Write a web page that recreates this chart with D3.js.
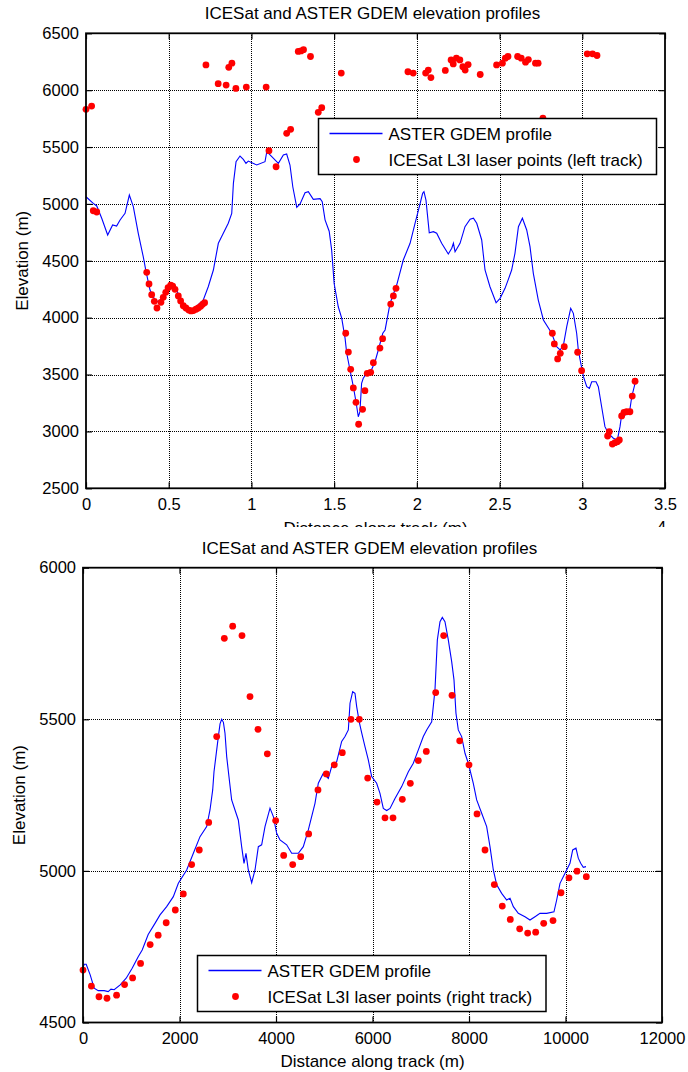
<!DOCTYPE html>
<html>
<head>
<meta charset="utf-8">
<script src="https://cdn.jsdelivr.net/npm/d3@7"></script>
<style>
  html, body { margin: 0; padding: 0; background: #fff; }
  svg { display: block; font-family: "Liberation Sans", Arial, Helvetica, sans-serif; }
</style>
</head>
<body>
<svg id="fig" width="688" height="1072"></svg>
<script>
// ---------- Left track (distance in units of 10^4 m) ----------
const demDistLeft = [0, 0.044, 0.065, 0.095, 0.131, 0.161, 0.185, 0.206, 0.236, 0.262, 0.286, 0.316, 0.346, 0.363,
  0.387, 0.417, 0.437, 0.468, 0.498, 0.518, 0.544, 0.568, 0.598, 0.633, 0.665, 0.709, 0.739, 0.770, 0.800, 0.830,
  0.860, 0.881, 0.891, 0.907, 0.931, 0.951, 0.967, 0.981, 1.032, 1.082, 1.093, 1.123, 1.163, 1.193, 1.213, 1.233,
  1.250, 1.274, 1.294, 1.324, 1.344, 1.374, 1.415, 1.428, 1.445, 1.470, 1.485, 1.500, 1.525, 1.546, 1.566, 1.576,
  1.596, 1.616, 1.632, 1.646, 1.656, 1.666, 1.676, 1.697, 1.727, 1.747, 1.767, 1.794, 1.808, 1.838, 1.878, 1.918,
  1.959, 1.989, 2.015, 2.035, 2.043, 2.055, 2.075, 2.100, 2.120, 2.150, 2.190, 2.211, 2.221, 2.231, 2.261, 2.291,
  2.322, 2.342, 2.362, 2.392, 2.412, 2.442, 2.479, 2.503, 2.533, 2.553, 2.573, 2.593, 2.614, 2.638, 2.664, 2.684,
  2.704, 2.734, 2.765, 2.815, 2.845, 2.866, 2.886, 2.906, 2.930, 2.946, 2.966, 2.976, 2.987, 3.007, 3.027, 3.043,
  3.057, 3.083, 3.097, 3.117, 3.137, 3.158, 3.188, 3.212, 3.228, 3.238, 3.258, 3.285, 3.299, 3.319];
const demElevLeft = [5063, 5005, 4982, 4874, 4727, 4815, 4806, 4859, 4917, 5078, 4976, 4742, 4536, 4404,
  4243, 4155, 4140, 4184, 4258, 4302, 4258, 4170, 4096, 4061, 4096, 4155, 4272, 4419, 4654, 4742,
  4830, 4917, 5181, 5371, 5421, 5392, 5357, 5377, 5342, 5371, 5459, 5415, 5357, 5430, 5439, 5342,
  5151, 4970, 5000, 5099, 5108, 5040, 5046, 5020, 4860, 4760, 4595, 4300, 4096, 3994, 3820, 3687,
  3540, 3393, 3261, 3129, 3173, 3423, 3467, 3511, 3546, 3613, 3716, 3863, 3892, 4126, 4287, 4507,
  4654, 4830, 4976, 5093, 5108, 5034, 4747, 4756, 4742, 4654, 4560, 4610, 4654, 4580, 4654, 4800,
  4865, 4874, 4830, 4683, 4419, 4272, 4131, 4170, 4258, 4337, 4419, 4566, 4800, 4874, 4771, 4624,
  4390, 4155, 3980, 3863, 3745, 3716, 3760, 3921, 4082, 4038, 3863, 3716, 3628, 3481, 3393, 3379,
  3437, 3437, 3393, 3217, 3042, 2983, 2940, 2925, 3042, 3144, 3144, 3165, 3305, 3423];

const laserDistLeft = [0, 0.034, 0.044, 0.065, 0.367, 0.381, 0.397, 0.413, 0.429, 0.453, 0.467, 0.482, 0.496,
  0.512, 0.524, 0.538, 0.558, 0.572, 0.588, 0.604, 0.621, 0.635, 0.649, 0.665, 0.679, 0.693, 0.705, 0.717,
  0.725, 0.799, 0.847, 0.863, 0.882, 0.906, 0.969, 1.089, 1.106, 1.149, 1.213, 1.237, 1.283, 1.300, 1.315,
  1.357, 1.404, 1.425, 1.543, 1.570, 1.586, 1.600, 1.616, 1.632, 1.648, 1.672, 1.686, 1.700, 1.721, 1.737,
  1.777, 1.793, 1.842, 1.858, 1.874, 1.946, 1.978, 2.053, 2.069, 2.085, 2.172, 2.207, 2.220, 2.239, 2.260,
  2.278, 2.292, 2.310, 2.383, 2.482, 2.517, 2.535, 2.551, 2.609, 2.631, 2.657, 2.674, 2.717, 2.733, 2.762,
  2.819, 2.831, 2.851, 2.867, 2.891, 2.972, 2.996, 3.030, 3.062, 3.089, 3.153, 3.163, 3.182, 3.198, 3.212,
  3.224, 3.238, 3.252, 3.268, 3.288, 3.302, 3.319];
const laserElevLeft = [5832, 5860, 4940, 4929, 4399, 4296, 4202, 4144, 4085, 4135, 4179, 4223, 4264,
  4287, 4278, 4249, 4191, 4147, 4105, 4085, 4067, 4059, 4062, 4074, 4085, 4100, 4117, 4132,
  6222, 6057, 6045, 6201, 6237, 6015, 6027, 6027, 5468, 5327, 5621, 5656, 6341, 6345, 6356,
  6296, 5805, 5846, 6150, 3863, 3698, 3546, 3382, 3256, 3063, 3194, 3358, 3511, 3520, 3604,
  3733, 3815, 4120, 4191, 4258, 6162, 6150, 6150, 6177, 6111, 6174, 6266, 6231, 6281, 6266,
  6207, 6177, 6225, 6138, 6222, 6237, 6281, 6296, 6296, 6281, 6246, 6269, 6237, 6237, 5755,
  3863, 3769, 3637, 3687, 3745, 3696, 3534, 6320, 6320, 6305, 2960, 2998, 2889, 2901, 2910,
  2925, 3136, 3168, 3173, 3173, 3311, 3441];

const leftXTicks = [0, 0.5, 1, 1.5, 2, 2.5, 3, 3.5];
const leftYTicks = [2500, 3000, 3500, 4000, 4500, 5000, 5500, 6000, 6500];

// ---------- Right track (distance in m) ----------
const demDistRight = [0, 25, 66, 149, 232, 315, 439, 522, 580, 646, 771, 895, 1019, 1144, 1227, 1351, 1492,
  1596, 1734, 1872, 1976, 2149, 2287, 2425, 2563, 2632, 2688, 2715, 2771, 2805, 2840, 2874, 2910, 2943, 2978,
  3033, 3081, 3150, 3219, 3288, 3337, 3378, 3426, 3496, 3565, 3634, 3703, 3772, 3876, 3945, 4014, 4083, 4221,
  4325, 4463, 4566, 4670, 4808, 4877, 4981, 5084, 5154, 5258, 5361, 5430, 5499, 5534, 5589, 5637, 5672, 5727,
  5776, 5844, 5913, 5983, 6086, 6155, 6224, 6294, 6363, 6466, 6605, 6743, 6846, 6950, 7053, 7123, 7227, 7295,
  7344, 7399, 7447, 7502, 7571, 7641, 7689, 7730, 7778, 7848, 7917, 7986, 8089, 8159, 8263, 8366, 8435, 8504,
  8574, 8677, 8781, 8850, 8919, 9022, 9160, 9264, 9368, 9471, 9610, 9761, 9817, 9886, 9990, 10093, 10149,
  10217, 10265, 10315, 10369, 10425];
const demElevRight = [4680, 4692, 4692, 4657, 4613, 4605, 4605, 4602, 4610, 4608, 4624, 4646, 4679, 4717, 4739, 4790, 4827,
  4855, 4882, 4915, 4959, 5003, 5058, 5113, 5146, 5201, 5267, 5327, 5399, 5443, 5485, 5500, 5490, 5454, 5377,
  5300, 5234, 5201, 5168, 5080, 5025, 5058, 5003, 4961, 5003, 5080, 5086, 5146, 5207, 5179, 5124, 5102, 5086,
  5058, 5058, 5080, 5135, 5223, 5289, 5322, 5305, 5344, 5360, 5427, 5443, 5465, 5553, 5591, 5586, 5542, 5490,
  5455, 5410, 5366, 5311, 5289, 5256, 5206, 5199, 5206, 5239, 5278, 5327, 5355, 5399, 5443, 5465, 5492, 5597,
  5762, 5822, 5836, 5822, 5762, 5690, 5630, 5520, 5465, 5443, 5388, 5355, 5289, 5234, 5190, 5146, 5080, 5003,
  4954, 4926, 4904, 4910, 4882, 4860, 4849, 4838, 4849, 4860, 4860, 4865, 4904, 4959, 4992, 5025, 5069,
  5075, 5042, 5025, 5012, 5014];

const laserDistRight = [0, 174, 331, 497, 696, 862, 1028, 1193, 1392, 1558, 1724, 1913, 2079, 2252, 2410,
  2605, 2771, 2929, 3102, 3295, 3461, 3627, 3820, 3993, 4159, 4346, 4512, 4677, 4870, 5043, 5208, 5374,
  5554, 5727, 5900, 6093, 6259, 6425, 6618, 6784, 6950, 7115, 7310, 7475, 7648, 7807, 8000, 8166, 8332,
  8525, 8690, 8856, 9050, 9216, 9382, 9548, 9741, 9907, 10072, 10238, 10431];
const laserElevRight = [4673, 4620, 4585, 4580, 4590, 4625, 4647, 4695, 4757, 4788, 4829, 4871, 4924, 5021, 5069,
  5160, 5443, 5767, 5807, 5776, 5575, 5467, 5386, 5166, 5051, 5021, 5047, 5122, 5267, 5320, 5350, 5390,
  5500, 5500, 5306, 5227, 5175, 5175, 5236, 5289, 5364, 5394, 5588, 5776, 5579, 5429, 5350, 5188, 5069,
  4955, 4884, 4840, 4809, 4795, 4798, 4827, 4836, 4928, 4977, 4999, 4981];

const rightXTicks = [0, 2000, 4000, 6000, 8000, 10000, 12000];
const rightYTicks = [4500, 5000, 5500, 6000];

const titleText = "ICESat and ASTER GDEM elevation profiles";
const xLabelText = "Distance along track (m)";
const yLabelText = "Elevation (m)";
const demLegend = "ASTER GDEM profile";
const leftLaserLegend = "ICESat L3I laser points (left track)";
const rightLaserLegend = "ICESat L3I laser points (right track)";

const svg = d3.select("#fig");
svg.append("rect").attr("width", 688).attr("height", 1072).attr("fill", "#fff");

function drawPanel(g, o) {
  const x = d3.scaleLinear().domain(o.xDomain).range([o.left, o.right]);
  const y = d3.scaleLinear().domain(o.yDomain).range([o.bottom, o.top]);

  // dotted grid
  const grid = g.append("g").attr("stroke", "#000").attr("stroke-width", 1)
    .attr("stroke-dasharray", "1,1").attr("shape-rendering", "crispEdges");
  grid.selectAll("line.gx").data(o.xTicks.slice(1, -1)).join("line")
    .attr("x1", d => Math.round(x(d)) + 0.5).attr("x2", d => Math.round(x(d)) + 0.5)
    .attr("y1", o.top).attr("y2", o.bottom);
  grid.selectAll("line.gy").data(o.yTicks.slice(1, -1)).join("line")
    .attr("y1", d => Math.round(y(d)) + 0.5).attr("y2", d => Math.round(y(d)) + 0.5)
    .attr("x1", o.left).attr("x2", o.right);

  // DEM profile
  const line = d3.line().x(d => x(d[0])).y(d => y(d[1]));
  g.append("path").datum(d3.zip(o.lineX, o.lineY))
    .attr("d", line).attr("fill", "none").attr("stroke", "#0000ff").attr("stroke-width", 1.1);

  // laser points
  g.append("g").attr("fill", "#ff0000").selectAll("circle")
    .data(d3.zip(o.dotX, o.dotY)).join("circle")
    .attr("cx", d => x(d[0])).attr("cy", d => y(d[1])).attr("r", 3.4);

  // axes with inward ticks on all sides
  const fmt = d => String(d);
  const axB = g.append("g").attr("transform", `translate(0,${o.bottom})`)
    .call(d3.axisBottom(x).tickValues(o.xTicks).tickFormat(fmt).tickSizeInner(-6).tickSizeOuter(0).tickPadding(10));
  const axL = g.append("g").attr("transform", `translate(${o.left},0)`)
    .call(d3.axisLeft(y).tickValues(o.yTicks).tickFormat(fmt).tickSizeInner(-6).tickSizeOuter(0).tickPadding(7));
  const axT = g.append("g").attr("transform", `translate(0,${o.top})`)
    .call(d3.axisTop(x).tickValues(o.xTicks).tickFormat("").tickSizeInner(-6).tickSizeOuter(0));
  const axR = g.append("g").attr("transform", `translate(${o.right},0)`)
    .call(d3.axisRight(y).tickValues(o.yTicks).tickFormat("").tickSizeInner(-6).tickSizeOuter(0));
  [axB, axL, axT, axR].forEach(a => {
    a.select(".domain").remove();
    a.selectAll(".tick line").attr("stroke", "#000").attr("stroke-width", 1.2);
    a.selectAll("text").attr("fill", "#000").style("font-size", "16.5px")
      .style("font-family", '"Liberation Sans", Arial, sans-serif');
  });

  // frame
  g.append("rect").attr("x", o.left).attr("y", o.top)
    .attr("width", o.right - o.left).attr("height", o.bottom - o.top)
    .attr("fill", "none").attr("stroke", "#000").attr("stroke-width", 1.8);

  // title and labels
  g.append("text").attr("x", (o.left + o.right) / 2 - 3).attr("y", o.titleY)
    .attr("text-anchor", "middle").style("font-size", "17px").text(titleText);
  g.append("text").attr("x", (o.left + o.right) / 2).attr("y", o.xLabelY)
    .attr("text-anchor", "middle").style("font-size", "17px").text(xLabelText);
  g.append("text").attr("transform", `translate(${o.yLabelX},${(o.top + o.bottom) / 2}) rotate(-90)`)
    .attr("text-anchor", "middle").style("font-size", "17px").text(yLabelText);

  // legend
  const lg = g.append("g").attr("transform", `translate(${o.legend.x},${o.legend.y})`);
  lg.append("rect").attr("width", o.legend.w).attr("height", o.legend.h)
    .attr("fill", "#fff").attr("stroke", "#000").attr("stroke-width", 1.5);
  lg.append("line").attr("x1", 11).attr("x2", 64).attr("y1", 15).attr("y2", 15)
    .attr("stroke", "#0000ff").attr("stroke-width", 1.3);
  lg.append("circle").attr("cx", 38).attr("cy", 41).attr("r", 3.4).attr("fill", "#ff0000");
  lg.append("text").attr("x", 70).attr("y", 21.5).style("font-size", "17px").text(demLegend);
  lg.append("text").attr("x", 70).attr("y", 47.5).style("font-size", "17px").text(o.legend.laserText);

  return { x, y };
}

// upper panel: left track
const upperPanel = svg.append("g");
drawPanel(upperPanel, {
  left: 86, right: 665, top: 33.3, bottom: 488.3,
  xDomain: [0, 3.5], yDomain: [2500, 6500],
  xTicks: leftXTicks, yTicks: leftYTicks,
  lineX: demDistLeft, lineY: demElevLeft,
  dotX: laserDistLeft, dotY: laserElevLeft,
  titleY: 19, xLabelY: 533.5, yLabelX: 28,
  legend: { x: 318.5, y: 118.5, w: 338, h: 56, laserText: leftLaserLegend }
});
// multiplier of the distance axis
upperPanel.append("text").attr("x", 656).attr("y", 541).attr("text-anchor", "end")
  .style("font-size", "16.5px").text("×10");
upperPanel.append("text").attr("x", 657).attr("y", 533).style("font-size", "16.5px").text("4");

// lower panel drawn on its own white sheet
const lowerPanel = svg.append("g");
lowerPanel.append("rect").attr("x", 0).attr("y", 527).attr("width", 688).attr("height", 545).attr("fill", "#fff");
drawPanel(lowerPanel, {
  left: 83, right: 662, top: 567.7, bottom: 1022.5,
  xDomain: [0, 12000], yDomain: [4500, 6000],
  xTicks: rightXTicks, yTicks: rightYTicks,
  lineX: demDistRight, lineY: demElevRight,
  dotX: laserDistRight, dotY: laserElevRight,
  titleY: 554, xLabelY: 1067, yLabelX: 25,
  legend: { x: 197.5, y: 955.5, w: 348.5, h: 56, laserText: rightLaserLegend }
});
</script>
</body>
</html>
